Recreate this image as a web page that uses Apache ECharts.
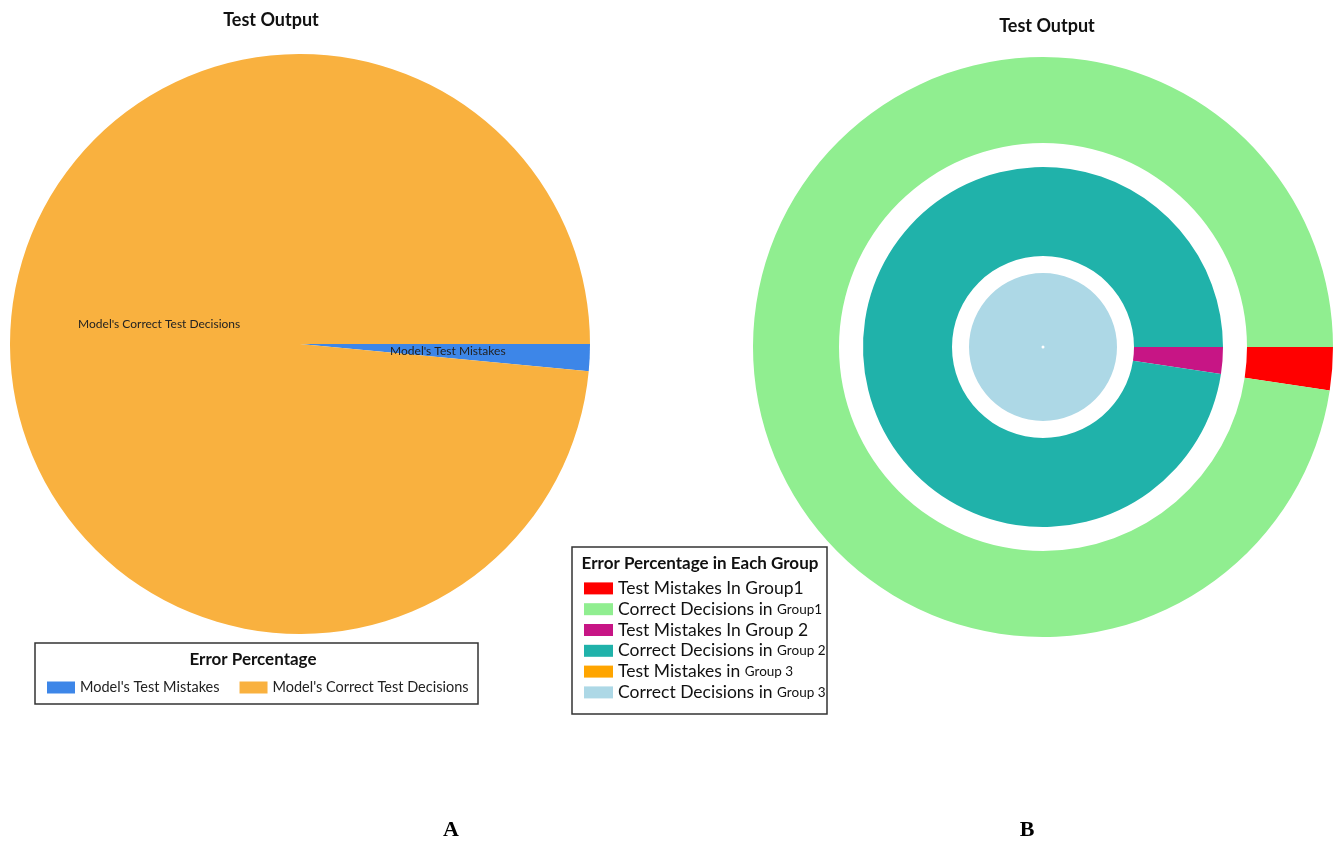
<!DOCTYPE html>
<html>
<head>
<meta charset="utf-8">
<script src="https://cdn.jsdelivr.net/npm/echarts@6/dist/echarts.min.js"></script>
<style>
  html, body { margin: 0; padding: 0; background: #fff; }
  #chart { width: 1344px; height: 846px; }
</style>
</head>
<body>
<div id="chart"></div>
<script>
// Panel A: overall test result
const overallNames = ["Model's Test Mistakes", "Model's Correct Test Decisions"];
const overallValues = [1.5, 98.5];

// Panel B: result per group (mistakes, correct decisions)
const group1Names = ['Test Mistakes In Group1', 'Correct Decisions in Group1'];
const group1Values = [2.4, 97.6];
const group2Names = ['Test Mistakes In Group 2', 'Correct Decisions in Group 2'];
const group2Values = [2.4, 97.6];
const group3Names = ['Test Mistakes in Group 3', 'Correct Decisions in Group 3'];
const group3Values = [0, 100];

const panelTitle = 'Test Output';
const panelLetters = ['A', 'B'];

const overallColors = ['#3d86e8', '#f9b13f'];
const group1Colors = ['#ff0000', '#90ee90'];
const group2Colors = ['#c71585', '#20b2aa'];
const group3Colors = ['#ffa500', '#add8e6'];

const uiFont = 'Lato, "Open Sans", sans-serif';

function pieData(names, values, colors) {
  return names.map((n, i) => ({ name: n, value: values[i], itemStyle: { color: colors[i] } }));
}

// Legend text with the "Group" part set in a smaller size where it was typeset that way
const smallGroup = {
  'Correct Decisions in Group1': ['Correct Decisions in ', 'Group1'],
  'Correct Decisions in Group 2': ['Correct Decisions in ', 'Group 2'],
  'Test Mistakes in Group 3': ['Test Mistakes in ', 'Group 3'],
  'Correct Decisions in Group 3': ['Correct Decisions in ', 'Group 3']
};

const chart = echarts.init(document.getElementById('chart'), null, { renderer: 'canvas' });

const ringBase = {
  type: 'pie',
  startAngle: 0,
  clockwise: true,
  avoidLabelOverlap: false,
  label: { show: false },
  labelLine: { show: false },
  emphasis: { disabled: true },
  silent: true,
  animation: false,
  minAngle: 0,
  stillShowZeroSum: true
};

chart.setOption({
  backgroundColor: '#ffffff',
  animation: false,
  legend: [
    {
      data: overallNames,
      orient: 'horizontal',
      left: 47,
      top: 680,
      padding: 0,
      itemWidth: 28,
      itemHeight: 12,
      itemGap: 20,
      icon: 'rect',
      selectedMode: false,
      textStyle: { fontFamily: uiFont, fontSize: 14.5, color: '#222' }
    },
    {
      data: [].concat(group1Names, group2Names, group3Names),
      orient: 'vertical',
      left: 584,
      top: 578,
      padding: 0,
      itemWidth: 29,
      itemHeight: 12,
      itemGap: 0,
      icon: 'rect',
      selectedMode: false,
      formatter: function (name) {
        const p = smallGroup[name];
        return p ? p[0] + '{s|' + p[1] + '}' : name;
      },
      textStyle: {
        fontFamily: uiFont,
        fontSize: 17.5,
        lineHeight: 20.8,
        color: '#111',
        rich: { s: { fontFamily: uiFont, fontSize: 13.5, color: '#111', lineHeight: 20.8 } }
      }
    }
  ],
  graphic: [
    {
      type: 'text', x: 271, y: 20,
      style: { text: panelTitle, font: 'bold 18px ' + uiFont, fill: '#111', align: 'center', verticalAlign: 'middle' }
    },
    {
      type: 'text', x: 1047, y: 26,
      style: { text: panelTitle, font: 'bold 18px ' + uiFont, fill: '#111', align: 'center', verticalAlign: 'middle' }
    },
    {
      type: 'rect', shape: { x: 35, y: 643, width: 443, height: 61 },
      style: { fill: null, stroke: '#333', lineWidth: 1.5 }
    },
    {
      type: 'text', x: 253, y: 660,
      style: { text: 'Error Percentage', font: 'bold 17px ' + uiFont, fill: '#111', align: 'center', verticalAlign: 'middle' }
    },
    {
      type: 'rect', shape: { x: 572, y: 547, width: 255, height: 167 },
      style: { fill: null, stroke: '#333', lineWidth: 1.5 }
    },
    {
      type: 'text', x: 700, y: 564,
      style: { text: 'Error Percentage in Each Group', font: 'bold 17px ' + uiFont, fill: '#111', align: 'center', verticalAlign: 'middle' }
    },
    {
      type: 'text', x: 451, y: 830,
      style: { text: panelLetters[0], font: 'bold 22px "Liberation Serif", "DejaVu Serif", serif', fill: '#000', align: 'center', verticalAlign: 'middle' }
    },
    {
      type: 'text', x: 1027, y: 830,
      style: { text: panelLetters[1], font: 'bold 22px "Liberation Serif", "DejaVu Serif", serif', fill: '#000', align: 'center', verticalAlign: 'middle' }
    }
  ],
  series: [
    Object.assign({}, ringBase, {
      name: 'Error Percentage',
      center: [300, 344],
      radius: [0, 290],
      data: pieData(overallNames, overallValues, overallColors),
      label: {
        show: true,
        position: 'inside',
        formatter: '{b}',
        fontFamily: uiFont,
        fontSize: 12,
        color: '#222'
      },
      labelLayout: function (params) {
        if (params.dataIndex === 1) return { dy: -13, dx: 7 };
        return {};
      }
    }),
    Object.assign({}, ringBase, {
      name: 'Group 1',
      center: [1043, 347],
      radius: [204, 290],
      data: pieData(group1Names, group1Values, group1Colors)
    }),
    Object.assign({}, ringBase, {
      name: 'Group 2',
      center: [1043, 347],
      radius: [91, 180],
      data: pieData(group2Names, group2Values, group2Colors)
    }),
    Object.assign({}, ringBase, {
      name: 'Group 3',
      center: [1043, 347],
      radius: [1.5, 74],
      data: pieData(group3Names, group3Values, group3Colors)
    })
  ]
});
</script>
</body>
</html>
